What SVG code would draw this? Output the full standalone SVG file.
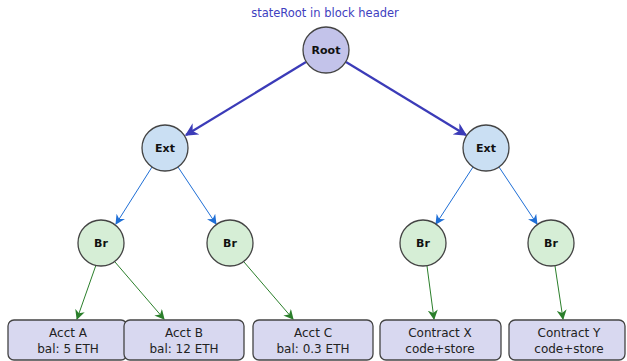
<svg xmlns="http://www.w3.org/2000/svg" width="627" height="361" viewBox="0 0 627 361">
<defs>
<marker id="ah1" viewBox="0 0 10 10" refX="9" refY="5" markerWidth="14" markerHeight="13" orient="auto" markerUnits="userSpaceOnUse"><path d="M0,0 L10,5 L0,10 L3,5 z" fill="#3b3bb8"/></marker>
<marker id="ah2" viewBox="0 0 10 10" refX="9" refY="5" markerWidth="10" markerHeight="10" orient="auto" markerUnits="userSpaceOnUse"><path d="M0,0 L10,5 L0,10 L3,5 z" fill="#1f6fd6"/></marker>
<marker id="ah3" viewBox="0 0 10 10" refX="9" refY="5" markerWidth="10" markerHeight="10" orient="auto" markerUnits="userSpaceOnUse"><path d="M0,0 L10,5 L0,10 L3,5 z" fill="#2b7f2b"/></marker>
</defs>
<style>
.n{stroke:#444;stroke-width:1.3}
.root{fill:#c3c3ea}
.ext{fill:#cadff3}
.br{fill:#d6eed6}
.box{fill:#d8d8f0;stroke:#444;stroke-width:1.3}
.lbl{font-family:"DejaVu Sans",sans-serif;font-weight:bold;font-size:11px;fill:#111;text-anchor:middle}
.bt{font-family:"DejaVu Sans",sans-serif;font-size:12px;fill:#222;text-anchor:middle}
.title{font-family:"DejaVu Sans",sans-serif;font-size:11.5px;fill:#4040c0;text-anchor:middle}
.c1{stroke:#3b3bb8;stroke-width:2.2;fill:none;marker-end:url(#ah1)}
.c2{stroke:#1f6fd6;stroke-width:1;fill:none;marker-end:url(#ah2)}
.c3{stroke:#2b7f2b;stroke-width:1;fill:none;marker-end:url(#ah3)}
</style>
<text class="title" x="325" y="17">stateRoot in block header</text>
<g id="connectors">
<line class="c1" x1="306" y1="62" x2="186" y2="135"/>
<line class="c1" x1="346" y1="62" x2="466" y2="135"/>
<line class="c2" x1="152" y1="167" x2="116" y2="224"/>
<line class="c2" x1="178" y1="167" x2="216" y2="224"/>
<line class="c2" x1="473" y1="167" x2="436" y2="224"/>
<line class="c2" x1="499" y1="167" x2="537" y2="224"/>
<line class="c3" x1="96" y1="265" x2="77" y2="319"/>
<line class="c3" x1="115" y1="262" x2="164" y2="319"/>
<line class="c3" x1="244" y1="262" x2="293" y2="319"/>
<line class="c3" x1="427" y1="266" x2="434" y2="319"/>
<line class="c3" x1="555" y1="266" x2="563" y2="319"/>
</g>
<g id="root"><circle class="n root" cx="326" cy="50" r="23"/><text class="lbl" x="326" y="54">Root</text></g>
<g id="ext1"><circle class="n ext" cx="165" cy="148" r="23"/><text class="lbl" x="165" y="152">Ext</text></g>
<g id="ext2"><circle class="n ext" cx="486" cy="148" r="23"/><text class="lbl" x="486" y="152">Ext</text></g>
<g id="br1"><circle class="n br" cx="101" cy="243" r="23"/><text class="lbl" x="101" y="247">Br</text></g>
<g id="br2"><circle class="n br" cx="230" cy="243" r="23"/><text class="lbl" x="230" y="247">Br</text></g>
<g id="br3"><circle class="n br" cx="423" cy="243" r="23"/><text class="lbl" x="423" y="247">Br</text></g>
<g id="br4"><circle class="n br" cx="551" cy="243" r="23"/><text class="lbl" x="551" y="247">Br</text></g>
<g id="acctA"><rect class="box" x="8" y="320" width="119" height="40" rx="6"/><text class="bt" x="68" y="337">Acct A</text><text class="bt" x="68" y="353">bal: 5 ETH</text></g>
<g id="acctB"><rect class="box" x="124" y="320" width="120" height="40" rx="6"/><text class="bt" x="184" y="337">Acct B</text><text class="bt" x="184" y="353">bal: 12 ETH</text></g>
<g id="acctC"><rect class="box" x="253" y="320" width="120" height="40" rx="6"/><text class="bt" x="313" y="337">Acct C</text><text class="bt" x="313" y="353">bal: 0.3 ETH</text></g>
<g id="contractX"><rect class="box" x="380" y="320" width="121" height="40" rx="6"/><text class="bt" x="440" y="337">Contract X</text><text class="bt" x="440" y="353">code+store</text></g>
<g id="contractY"><rect class="box" x="509" y="320" width="116" height="40" rx="6"/><text class="bt" x="569" y="337">Contract Y</text><text class="bt" x="569" y="353">code+store</text></g>
</svg>
